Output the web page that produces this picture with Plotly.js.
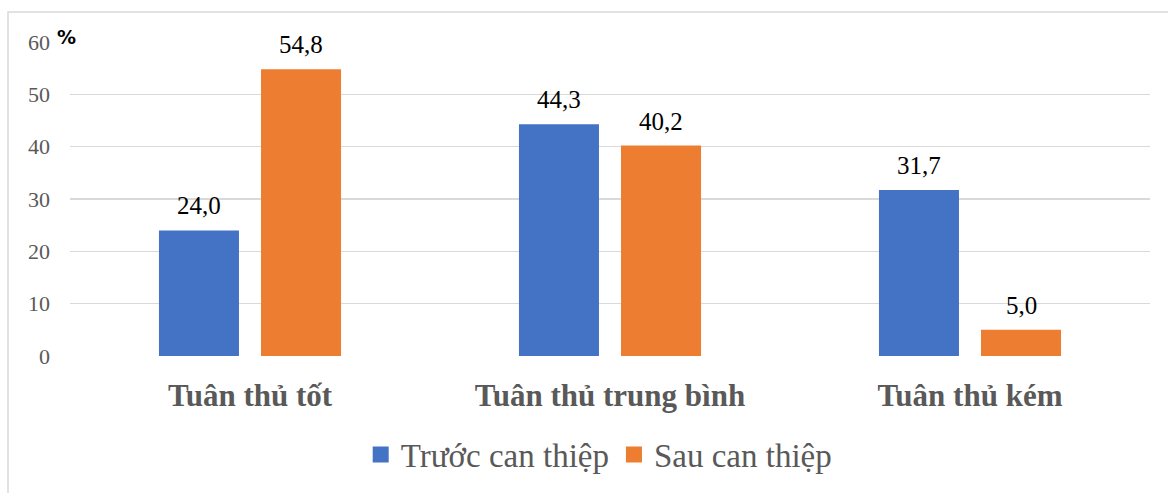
<!DOCTYPE html>
<html>
<head>
<meta charset="utf-8">
<script src="https://cdn.plot.ly/plotly-3.0.1.min.js"></script>
<style>
  html, body { margin: 0; padding: 0; background: #fff; }
  #chart { width: 1168px; height: 493px; }
  /* Serif face for every chart text, the unit marker excepted */
  #chart svg text { font-family: "Liberation Serif", "Times New Roman", serif !important; }
  #chart svg g.annotation.unit-mark text,
  #chart svg .infolayer g.annotation:last-of-type text { font-family: "DejaVu Sans", sans-serif !important; }
</style>
</head>
<body>
<div id="chart"></div>
<script>
// Mức độ tuân thủ trước và sau can thiệp (%)
const categories = ['Tuân thủ tốt', 'Tuân thủ trung bình', 'Tuân thủ kém'];
const seriesNames = ['Trước can thiệp', 'Sau can thiệp'];
const truocCanThiep = [24.0, 44.3, 31.7];
const sauCanThiep = [54.8, 40.2, 5.0];
const yTickValues = [0, 10, 20, 30, 40, 50, 60];

const colors = ['#4472c4', '#ed7d31'];
const serif = 'Liberation Serif';
const fmt = v => v.toFixed(1).replace('.', ',');

const seriesValues = [truocCanThiep, sauCanThiep];

const traces = seriesValues.map((vals, i) => ({
  type: 'bar',
  name: seriesNames[i],
  x: categories,
  y: vals,
  marker: { color: colors[i] },
  showlegend: false,
  hoverinfo: 'x+y'
}));

// Legend entries with larger square swatches
seriesNames.forEach((name, i) => {
  traces.push({
    type: 'scatter',
    mode: 'markers',
    name: name,
    x: [null],
    y: [null],
    marker: { symbol: 'square', size: 16, color: colors[i] },
    showlegend: true,
    hoverinfo: 'skip'
  });
});

// Value labels above each bar
const annotations = [];
seriesValues.forEach((vals, i) => {
  vals.forEach((v, j) => {
    annotations.push({
      x: categories[j],
      y: v,
      xref: 'x',
      yref: 'y',
      text: fmt(v),
      showarrow: false,
      xanchor: 'center',
      yanchor: 'bottom',
      xshift: i === 0 ? -51 : 51,
      yshift: 9,
      font: { family: serif, size: 25, color: '#000' }
    });
  });
});

// Unit marker beside the top tick (kept last in the list)
annotations.push({
  xref: 'paper', yref: 'paper',
  x: (66 - 70) / 1080, y: 1.0,
  text: '%',
  showarrow: false,
  xanchor: 'center',
  yanchor: 'middle',
  yshift: 5,
  font: { family: 'DejaVu Sans', size: 19, color: '#000', weight: 'bold' }
});

const layout = {
  width: 1168,
  height: 493,
  margin: { l: 70, r: 18, t: 42, b: 136 },
  font: { family: serif, color: '#595959' },
  paper_bgcolor: '#fff',
  plot_bgcolor: '#fff',
  barmode: 'group',
  bargap: 0.433,
  bargroupgap: 0.216,
  showlegend: true,
  legend: {
    orientation: 'h',
    x: 0.49,
    xanchor: 'center',
    y: -0.31,
    yanchor: 'middle',
    font: { family: serif, size: 33, color: '#595959' },
    itemwidth: 30,
    bgcolor: 'rgba(0,0,0,0)'
  },
  xaxis: {
    type: 'category',
    showgrid: false,
    zeroline: false,
    showline: false,
    ticks: '',
    ticklabelstandoff: 18,
    tickfont: { family: serif, size: 31, color: '#595959', weight: 'bold' },
    fixedrange: true
  },
  yaxis: {
    range: [0, 60],
    tickvals: yTickValues,
    ticktext: yTickValues.map(String),
    showgrid: true,
    gridcolor: '#d9d9d9',
    gridwidth: 1.5,
    zeroline: false,
    showline: false,
    ticks: '',
    ticklabelstandoff: 19,
    tickfont: { family: serif, size: 22, color: '#595959' },
    fixedrange: true
  },
  shapes: [{
    type: 'rect',
    xref: 'paper', yref: 'paper',
    x0: (8 - 70) / 1080, x1: (1180 - 70) / 1080,
    y0: (357 - 510) / 315, y1: (357 - 12) / 315,
    line: { color: '#d9d9d9', width: 1.5 },
    fillcolor: 'rgba(0,0,0,0)',
    layer: 'below'
  }],
  annotations: annotations
};

Plotly.newPlot('chart', traces, layout, { displayModeBar: false, staticPlot: true });
</script>
</body>
</html>
